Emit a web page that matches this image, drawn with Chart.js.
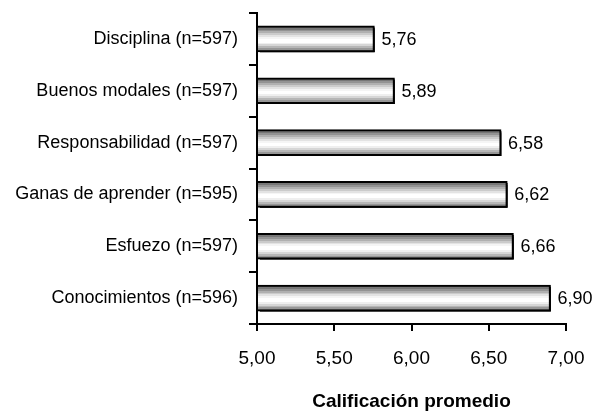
<!DOCTYPE html>
<html>
<head>
<meta charset="utf-8">
<script src="https://cdn.jsdelivr.net/npm/chart.js@4"></script>
<style>
  html, body { margin: 0; padding: 0; background: #fff; }
  #wrap { width: 596px; height: 414px; }
</style>
</head>
<body>
<div id="wrap"><canvas id="myChart" width="596" height="414"></canvas></div>
<script>
// chart data
const categories = ['Disciplina (n=597)', 'Buenos modales (n=597)', 'Responsabilidad (n=597)',
    'Ganas de aprender (n=595)', 'Esfuezo (n=597)', 'Conocimientos (n=596)'];
const scores = [5.76, 5.89, 6.58, 6.62, 6.66, 6.90];
const xTicks = [5.00, 5.50, 6.00, 6.50, 7.00];
const axisTitle = 'Calificación promedio';

const BAR = 26;
const FONT = '"Liberation Sans", Arial, sans-serif';
// banded grey fill, top to bottom
const bands = ['#5e5e5e', '#777777', '#939393', '#b0b0b0', '#cbcbcb', '#e3e3e3', '#f5f5f5',
    '#ffffff', '#ffffff', '#efefef', '#d6d6d6', '#b6b6b6', '#979797', '#7e7e7e'];

const comma = v => v.toFixed(2).replace('.', ',');

function barFill(c) {
    const y = c.chart.scales.y;
    if (!y || c.dataIndex === undefined) return '#cccccc';
    const mid = y.getPixelForValue(c.dataIndex);
    if (!isFinite(mid)) return '#cccccc';
    const g = c.chart.ctx.createLinearGradient(0, mid - BAR / 2, 0, mid + BAR / 2);
    const n = bands.length;
    for (let i = 0; i < n; i++) {
        g.addColorStop(i / n, bands[i]);
        g.addColorStop((i + 1) / n - 0.0001, bands[i]);
    }
    return g;
}

// black drop shadow behind bars
const shadowPlugin = {
    id: 'shadow',
    beforeDatasetsDraw(chart) {
        const ctx = chart.ctx;
        ctx.save();
        ctx.shadowColor = '#000';
        ctx.shadowOffsetX = 2;
        ctx.shadowOffsetY = 2;
        ctx.shadowBlur = 0;
    },
    afterDatasetsDraw(chart) {
        chart.ctx.restore();
    }
};

// value labels right of the bars
const valuePlugin = {
    id: 'values',
    afterDraw(chart) {
        const ctx = chart.ctx;
        const meta = chart.getDatasetMeta(0);
        ctx.save();
        ctx.font = '18px ' + FONT;
        ctx.fillStyle = '#000';
        ctx.textBaseline = 'middle';
        ctx.textAlign = 'left';
        meta.data.forEach((bar, i) => {
            ctx.fillText(comma(scores[i]), bar.x + 7, bar.y + 1);
        });
        ctx.restore();
    }
};

new Chart(document.getElementById('myChart'), {
    type: 'bar',
    data: {
        labels: categories,
        datasets: [{
            data: scores,
            base: xTicks[0],
            backgroundColor: barFill,
            borderColor: '#000',
            borderWidth: 2,
            barThickness: BAR
        }]
    },
    options: {
        indexAxis: 'y',
        responsive: false,
        animation: false,
        events: [],
        layout: { padding: { top: 13, right: 0, bottom: 0, left: 0 } },
        plugins: { legend: { display: false }, tooltip: { enabled: false } },
        scales: {
            x: {
                min: xTicks[0],
                max: xTicks[xTicks.length - 1],
                afterBuildTicks: s => { s.ticks = xTicks.map(v => ({ value: v })); },
                afterFit: s => { s.height = 90; s.paddingLeft = 0; s.paddingRight = 30; },
                border: { color: '#000', width: 2 },
                grid: { drawOnChartArea: false, color: '#000', lineWidth: 2, tickLength: 7 },
                ticks: {
                    padding: 16,
                    color: '#000',
                    font: { family: FONT, size: 19 },
                    callback: v => comma(v)
                },
                title: {
                    display: true,
                    text: axisTitle,
                    color: '#000',
                    padding: { top: 0, bottom: 1 },
                    font: { family: FONT, size: 19, weight: 'bold' }
                }
            },
            y: {
                afterFit: s => { s.width = 257; s.paddingTop = 0; s.paddingBottom = 0; },
                border: { color: '#000', width: 2 },
                grid: { drawOnChartArea: false, color: '#000', lineWidth: 2, tickLength: 8, offset: true },
                ticks: {
                    padding: 11,
                    color: '#000',
                    font: { family: FONT, size: 18 }
                }
            }
        }
    },
    plugins: [shadowPlugin, valuePlugin]
});
</script>
</body>
</html>
